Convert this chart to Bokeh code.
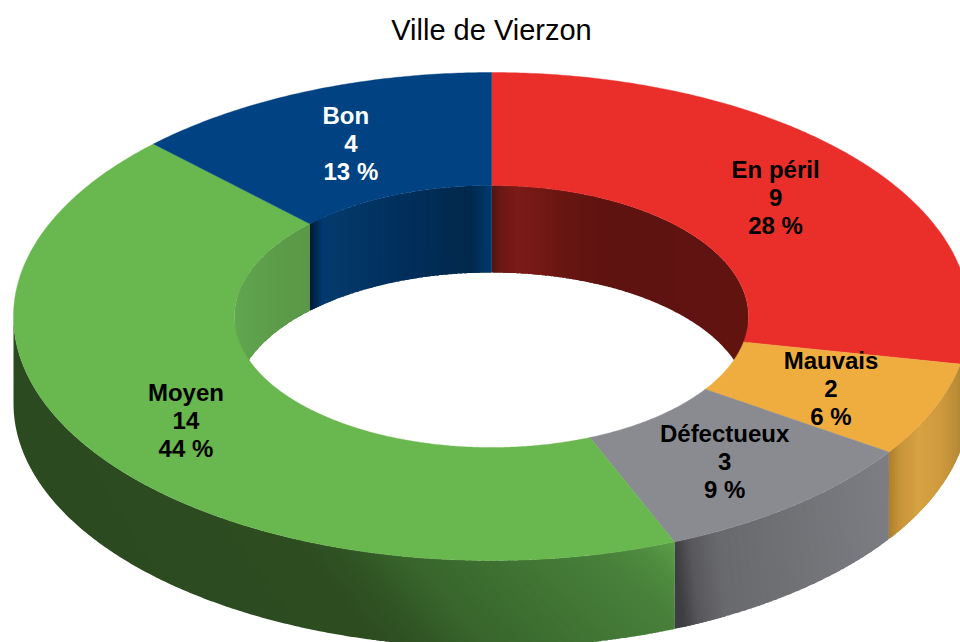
import numpy as np
from bokeh.plotting import figure
from bokeh.models import Range1d, ColumnDataSource
from bokeh.core.properties import value
from bokeh.embed import file_html
from bokeh.resources import INLINE

title_text = "Ville de Vierzon"
categories = ["En péril", "Mauvais", "Défectueux", "Moyen", "Bon"]
counts = [9, 2, 3, 14, 4]
percents = ["28 %", "6 %", "9 %", "44 %", "13 %"]
top_colors = ["#ea2f2a", "#efad40", "#8a8b90", "#69b74f", "#004282"]
label_colors = ["black", "black", "black", "black", "white"]
name_nudge = [0, 0, 0, 0, -5]

# style: projected ring geometry, in page pixels of the reference
CX, CY, RX_OUT, RY_OUT, RX_IN, RY_IN, DEPTH = 491, 316, 478, 244, 257, 131, 87
FONT = "Liberation Sans"

# style: side-wall shading as (pixel x, colour) stops and a shear of the gradient
outer_shade = {
    "En péril": ([900, 960], ["#8a1f1a", "#8a1f1a"], 0.0),
    "Mauvais": ([888, 900, 918, 940, 960], ["#ad7e2c", "#c8953a", "#d6a242", "#cf9a3e", "#b58a35"], 0.0),
    "Défectueux": ([674, 690, 715, 800, 888], ["#3e3e42", "#58585c", "#68696c", "#727377", "#7d7e83"], 0.1),
    "Moyen": ([13, 290, 350, 400, 500, 600, 640, 672],
              ["#2c4a20", "#2d4c20", "#315524", "#37642b", "#3f7233", "#48803a", "#4f8c3f", "#5a9e48"], 0.9),
}
inner_shade = {
    "Moyen": ([235, 270, 310], ["#60a54f", "#5c9d4a", "#5a9846"]),
    "Bon": ([310, 322, 335, 400, 470, 491], ["#021c38", "#023a70", "#04396a", "#012f5c", "#02284c", "#003a70"]),
    "En péril": ([491, 500, 516, 560, 600, 748], ["#4f1512", "#6a1815", "#7d1a18", "#6a1612", "#5e1310", "#611310"]),
}


def rgb(h):
    return [int(h[i:i + 2], 16) for i in (1, 3, 5)]


def shade(x, xs, cols):
    c = [np.interp(x, xs, [rgb(k)[i] for k in cols]) for i in range(3)]
    return "#%02x%02x%02x" % tuple(int(round(v)) for v in c)


def pt(theta, rx, ry):
    t = np.radians(theta)
    return CX + rx * np.sin(t), CY - ry * np.cos(t)


total = sum(counts)
edges = [0.0]
for n in counts:
    edges.append(edges[-1] + 360.0 * n / total)

p = figure(width=960, height=642, output_backend="svg", toolbar_location=None,
           x_range=Range1d(0, 960), y_range=Range1d(642, 0),
           x_axis_location=None, y_axis_location=None, min_border=0,
           outline_line_color=None, background_fill_color="white", border_fill_color="white")
p.grid.visible = False

wx, wy, wc = [], [], []
BAND = 1.5


def add_wall(a0, a1, rx, ry, sign, stops, cols, shear):
    """Wall between two angles, painted as overlapping bands along the sheared gradient."""
    xa, xb = pt(a0, rx, ry)[0], pt(a1, rx, ry)[0]
    x_lo, x_hi = min(xa, xb), max(xa, xb)

    def curve(x, dy):
        phi = np.arcsin(np.clip((x - CX) / rx, -1, 1))
        return CY + sign * ry * np.cos(phi) + dy

    def iso(u):
        dy = np.linspace(0, DEPTH, 9)
        x = np.clip(u + shear * dy, x_lo, x_hi)
        return x, curve(x, dy)

    def arc(x0, x1, dy):
        f0, f1 = np.arcsin(np.clip((np.array([x0, x1]) - CX) / rx, -1, 1))
        n = max(2, int(abs(f1 - f0) / np.radians(0.4)) + 2)
        x = CX + rx * np.sin(np.linspace(f0, f1, n))
        return x, curve(x, dy)

    us = np.arange(x_lo - shear * DEPTH, x_hi + BAND, BAND)
    cs = [shade(u + BAND / 2, stops, cols) for u in us]
    i = 0
    while i < len(us):
        j = i
        while j + 1 < len(us) and cs[j + 1] == cs[i]:
            j += 1
        u0, u1 = us[i], min(us[j] + BAND + 2.0, x_hi + 1e-6)  # overlap the next band, which paints over it
        x1, y1 = iso(u0)
        x2, y2 = arc(np.clip(u0 + shear * DEPTH, x_lo, x_hi), np.clip(u1 + shear * DEPTH, x_lo, x_hi), DEPTH)
        x3, y3 = iso(u1)
        x4, y4 = arc(np.clip(u1, x_lo, x_hi), np.clip(u0, x_lo, x_hi), 0)
        wx.append(np.concatenate([x1, x2, x3[::-1], x4]).tolist())
        wy.append(np.concatenate([y1, y2, y3[::-1], y4]).tolist())
        wc.append(cs[i])
        i = j + 1


# outer walls: lower half of the ring
for k, cat in enumerate(categories):
    if cat in outer_shade:
        a0, a1 = max(edges[k], 90.0), min(edges[k + 1], 270.0)
        if a1 > a0:
            s, c, sh = outer_shade[cat]
            add_wall(a0, a1, RX_OUT, RY_OUT, 1, s, c, sh)

# inner walls: upper half of the hole
for k, cat in enumerate(categories):
    if cat in inner_shade:
        s, c = inner_shade[cat]
        a0, a1 = edges[k], edges[k + 1]
        if a0 < 90.0:
            a1 = min(a1, 90.0)
        else:
            a0 = max(a0, 270.0)
        add_wall(a0, a1, RX_IN, RY_IN, -1, s, c, 0.0)

p.patches(wx, wy, fill_color=wc, line_color=None)

# top face, one annular sector per category
tx, ty = [], []
for k in range(len(categories)):
    th = np.linspace(edges[k], edges[k + 1], int(edges[k + 1] - edges[k]) * 2 + 2)
    xo, yo = pt(th, RX_OUT, RY_OUT)
    xi, yi = pt(th[::-1], RX_IN, RY_IN)
    tx.append(np.concatenate([xo, xi]).tolist())
    ty.append(np.concatenate([yo, yi]).tolist())
p.patches(tx, ty, fill_color=top_colors, line_color=top_colors, line_width=0.4)

# data labels at the middle of each sector
mid = [(edges[k] + edges[k + 1]) / 2 for k in range(len(categories))]
lx, ly = pt(np.array(mid), (RX_OUT + RX_IN) / 2, (RY_OUT + RY_IN) / 2)
LINE = 28
for texts, off, nudge in ((categories, -LINE, name_nudge),
                          ([str(c) for c in counts], 0, [0] * 5),
                          (percents, LINE, [0] * 5)):
    src = ColumnDataSource(dict(x=(lx + np.array(nudge)).tolist(), y=ly.tolist(), t=texts, c=label_colors))
    p.text("x", "y", text="t", source=src, text_color="c", text_align="center", text_baseline="middle",
           y_offset=off, text_font=value(FONT), text_font_style="bold", text_font_size="24px")

p.text([CX], [29], text=[title_text], text_align="center", text_baseline="middle",
       text_font=value(FONT), text_font_size="29px", text_color="black")

open("out.html", "w").write(file_html(p, INLINE))
